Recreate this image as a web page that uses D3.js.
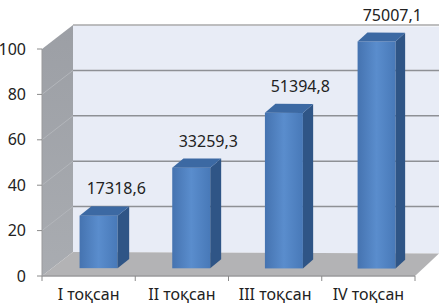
<!DOCTYPE html>
<html>
<head>
<meta charset="utf-8">
<script src="https://cdn.jsdelivr.net/npm/d3@7"></script>
<style>
  body { margin: 0; background: #fff; }
  svg { display: block; font-family: "Noto Sans", sans-serif; }
</style>
</head>
<body>
<svg id="chart" width="439" height="306"></svg>
<script>
// quarters and the values written above the bars
var categories = ["I тоқсан", "II тоқсан", "III тоқсан", "IV тоқсан"];
var labels = ["17318,6", "33259,3", "51394,8", "75007,1"];
// bar heights as read against the 0..100 axis
var heights = [23.1, 44.3, 68.5, 100];
var yTicks = [0, 20, 40, 60, 80, 100];

var svg = d3.select("#chart");

var x = d3.scaleBand().domain(categories).range([42, 415]).padding(0);
var y = d3.scaleLinear().domain([0, 100]).range([276, 49]);

// fake 3d: shift points back by depth z (0 = front plane, 1 = back wall)
// the shear gets a bit steeper to the right, like Excel's perspective
function proj(px, v, z) {
    var f = (px - 42) / 373;
    var dx = 31 - 7 * f,
        dy = 24 - 1.5 * f;
    return [px + dx * z, y(v) - dy * z];
}
function poly(pts) { return "M" + pts.map(function (p) { return p.join(","); }).join("L") + "Z"; }

var defs = svg.append("defs");
var g1 = defs.append("linearGradient").attr("id", "front").attr("x1", 0).attr("x2", 1);
g1.append("stop").attr("offset", 0).attr("stop-color", "#4573b0");
g1.append("stop").attr("offset", 0.5).attr("stop-color", "#5a8dcd");
g1.append("stop").attr("offset", 1).attr("stop-color", "#4879b8");
var g2 = defs.append("linearGradient").attr("id", "wall").attr("x1", 0).attr("x2", 0).attr("y1", 0).attr("y2", 1);
g2.append("stop").attr("offset", 0).attr("stop-color", "#9c9fa5");
g2.append("stop").attr("offset", 1).attr("stop-color", "#a9acb1");

var x0 = x.range()[0], x1 = x.range()[1];

// back wall
svg.append("path")
    .attr("d", poly([proj(x0, 0, 1), proj(x0, 100, 1), proj(x1 + 20, 100, 1), proj(x1 + 20, 0, 1)]))
    .attr("fill", "#e8ecf6");
svg.append("line")
    .attr("x1", proj(x0, 100, 1)[0]).attr("y1", proj(x0, 100, 1)[1])
    .attr("x2", 439).attr("y2", proj(x0, 100, 1)[1])
    .attr("stroke", "#a8a8aa").attr("stroke-width", 1.5);

// left wall
svg.append("path")
    .attr("d", poly([proj(x0, 0, 0), proj(x0, 100, 0), proj(x0, 100, 1), proj(x0, 0, 1)]))
    .attr("fill", "url(#wall)");

// gridlines
yTicks.filter(function (t) { return t > 0 && t < 100; }).forEach(function (t) {
    var a = proj(x0, t, 0), b = proj(x0, t, 1);
    svg.append("line")
        .attr("x1", a[0]).attr("y1", a[1]).attr("x2", b[0]).attr("y2", b[1])
        .attr("stroke", "#b3b6bb").attr("stroke-width", 1);
    svg.append("line")
        .attr("x1", b[0]).attr("y1", b[1]).attr("x2", 439).attr("y2", b[1])
        .attr("stroke", "#8e9095").attr("stroke-width", 1.5);
});

// floor
svg.append("path")
    .attr("d", poly([proj(x0, 0, 0), proj(x1, 0, 0), proj(x1, 0, 1), proj(x0, 0, 1)]))
    .attr("fill", "#b3b3b5");
svg.append("line")
    .attr("x1", x0).attr("y1", y(0)).attr("x2", x1).attr("y2", y(0))
    .attr("stroke", "#9a9a9c").attr("stroke-width", 1.5);

// value axis: ticks and labels
var ax = svg.append("g");
ax.append("line")
    .attr("x1", x0).attr("y1", y(0)).attr("x2", x0).attr("y2", y(100))
    .attr("stroke", "#9a9a9c");
ax.selectAll(".tick").data(yTicks).enter().append("line")
    .attr("x1", x0 - 5).attr("x2", x0)
    .attr("y1", function (d) { return y(d); }).attr("y2", function (d) { return y(d); })
    .attr("stroke", "#8a8a8a");
ax.selectAll("text").data(yTicks).enter().append("text")
    .attr("x", 26).attr("y", function (d) { return y(d); })
    .attr("dy", "0.35em").attr("text-anchor", "end")
    .attr("font-size", 16).attr("fill", "#222")
    .text(function (d) { return d; });

// category axis
var cx = svg.append("g");
cx.selectAll("line").data(categories.concat(["end"])).enter().append("line")
    .attr("x1", function (d, i) { return x0 + i * x.step(); })
    .attr("x2", function (d, i) { return x0 + i * x.step(); })
    .attr("y1", y(0)).attr("y2", y(0) + 5)
    .attr("stroke", "#8a8a8a");
cx.selectAll("text").data(categories).enter().append("text")
    .attr("x", function (d) { return x(d) + x.bandwidth() / 2; })
    .attr("y", 300)
    .attr("text-anchor", "middle")
    .attr("font-size", 16).attr("fill", "#222")
    .text(function (d) { return d; });

// bars
var zf = 0.33, zb = 0.72, bw = x.bandwidth() * 0.41;
var bars = svg.selectAll(".bar")
    .data(categories.map(function (c, i) { return { cat: c, h: heights[i], label: labels[i] }; }))
    .enter().append("g").attr("class", "bar");

bars.each(function (d) {
    var g = d3.select(this);
    var l = x(d.cat) + (x.bandwidth() - bw) / 2, r = l + bw;
    // front
    var fa = proj(l, d.h, zf), fb = proj(r, 0, zf);
    g.append("rect")
        .attr("x", fa[0]).attr("y", fa[1])
        .attr("width", fb[0] - fa[0]).attr("height", fb[1] - fa[1])
        .attr("fill", "url(#front)");
    // side
    g.append("path")
        .attr("d", poly([proj(r, 0, zf), proj(r, d.h, zf), proj(r, d.h, zb), proj(r, 0, zb)]))
        .attr("fill", "#2f5586");
    // top
    g.append("path")
        .attr("d", poly([proj(l, d.h, zf), proj(r, d.h, zf), proj(r, d.h, zb), proj(l, d.h, zb)]))
        .attr("fill", "#3c69a3");
    // value label
    var t = proj(l + bw / 2, d.h, zb);
    g.append("text")
        .attr("x", t[0] + 6).attr("y", t[1] - 12)
        .attr("text-anchor", "middle")
        .attr("font-size", 16).attr("fill", "#222")
        .text(d.label);
});
</script>
</body>
</html>
